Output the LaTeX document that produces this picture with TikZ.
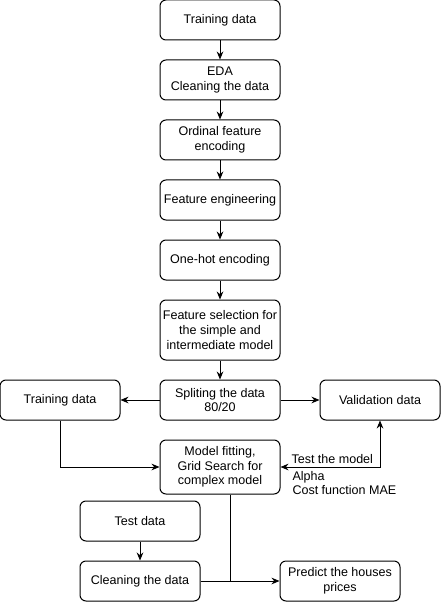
\documentclass[tikz,border=0pt]{standalone}
\usepackage{fontspec}
\setmainfont{Liberation Sans}
\usetikzlibrary{arrows.meta}

\begin{document}
\begin{tikzpicture}[x=0.75pt, y=-0.75pt, line width=0.75pt,
    box/.style={rectangle, rounded corners=4.5pt, draw, fill=white, minimum width=90pt, minimum height=30pt, align=center, inner sep=1pt, font=\fontsize{9.4}{11}\selectfont},
    lbl/.style={anchor=west, inner sep=0pt, align=left, font=\fontsize{9.4}{11}\selectfont},
    arr/.style={-{Stealth[length=6pt, width=5pt]}}]
    \useasboundingbox[fill=white] (0,0) rectangle (441,602);

    % Draw nodes
    \node[box] (train) at (220,20) {Training data};
    \node[box] (eda) at (220,80) {EDA\\Cleaning the data};
    \node[box] (ordinal) at (220,140) {Ordinal feature\\encoding};
    \node[box] (feateng) at (220,200) {Feature engineering};
    \node[box] (onehot) at (220,260) {One-hot encoding};
    \node[box, minimum height=45pt] (featsel) at (220,330) {Feature selection for\\the simple and\\intermediate model};
    \node[box] (split) at (220,400) {Spliting the data\\80/20};
    \node[box] (trainset) at (60,400) {Training data};
    \node[box] (valid) at (380,400) {Validation data};
    \node[box, minimum height=40.5pt] (fit) at (220,467) {Model fitting,\\Grid Search for\\complex model};
    \node[box] (test) at (140,521) {Test data};
    \node[box] (clean) at (140,581) {Cleaning the data};
    \node[box] (predict) at (340,581) {Predict the houses\\prices};
    \coordinate (join) at (230,581);

    % Labels
    \node[lbl] (testlbl) at (291,459) {Test the model};
    \node[lbl] (costlbl) at (292,483) {Alpha\\Cost function MAE};

    % Draw connections
    \draw[arr] (train) -- (eda);
    \draw[arr] (eda) -- (ordinal);
    \draw[arr] (ordinal) -- (feateng);
    \draw[arr] (feateng) -- (onehot);
    \draw[arr] (onehot) -- (featsel);
    \draw[arr] (featsel) -- (split);
    \draw[arr] (split) -- (trainset);
    \draw[arr] (split) -- (valid);
    \draw[arr] (trainset) |- (fit);
    \draw[{Stealth[length=6pt, width=5pt]}-{Stealth[length=6pt, width=5pt]}] (fit.east) -| (valid.south);
    \draw[arr] (test) -- (clean);
    \draw[arr] (clean) -- (predict);
    \draw (fit.south -| join) -- (join);
\end{tikzpicture}
\end{document}
